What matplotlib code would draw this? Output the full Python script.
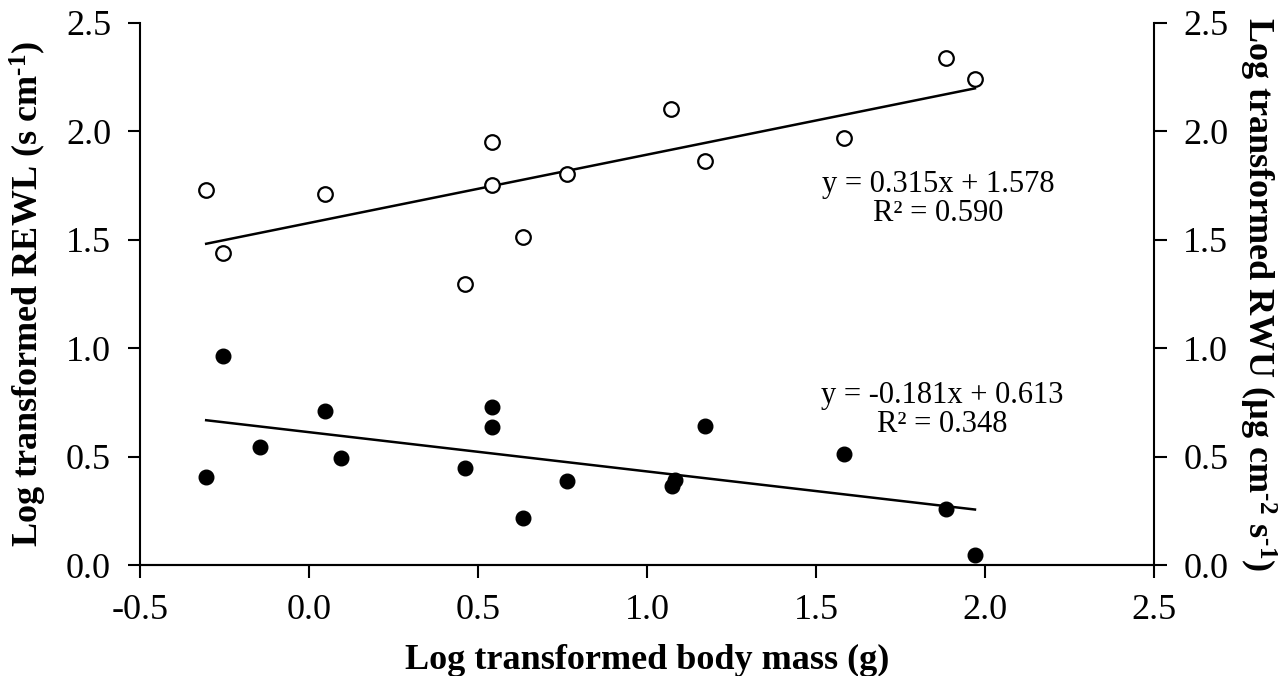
'''
Body mass vs REWL / RWU scatter with linear fits
'''

import numpy as np
import matplotlib
matplotlib.use("Agg")
import matplotlib.pyplot as plt

plt.rcParams["font.family"] = ["Liberation Serif", "DejaVu Serif"]
plt.rcParams["mathtext.fontset"] = "custom"
plt.rcParams["mathtext.rm"] = "Liberation Serif:bold"
plt.rcParams["mathtext.it"] = "Liberation Serif:bold"
plt.rcParams["mathtext.bf"] = "Liberation Serif:bold"
plt.rcParams["axes.unicode_minus"] = False

# REWL (open circles)
rewl_mass = [-0.305, -0.256, 0.047, 0.462, 0.541, 0.541, 0.632, 0.762, 1.072, 1.170, 1.581, 1.883, 1.970]
rewl_vals = [1.731, 1.439, 1.710, 1.298, 1.952, 1.753, 1.514, 1.802, 2.102, 1.863, 1.971, 2.337, 2.242]

# RWU (filled circles)
rwu_mass = [-0.305, -0.256, -0.145, 0.047, 0.095, 0.462, 0.541, 0.541, 0.632, 0.762,
            1.073, 1.082, 1.170, 1.581, 1.883, 1.970]
rwu_vals = [0.405, 0.963, 0.546, 0.713, 0.494, 0.447, 0.730, 0.637, 0.218, 0.387,
            0.364, 0.392, 0.641, 0.513, 0.258, 0.046]

# fitted lines as printed on the chart
rewl_fit = [0.315, 1.578]
rwu_fit = [-0.181, 0.613]
rewl_label = "y = 0.315x + 1.578\nR² = 0.590"
rwu_label = "y = -0.181x + 0.613\nR² = 0.348"

ticks = [-0.5, 0.0, 0.5, 1.0, 1.5, 2.0, 2.5]
yticks = [0.0, 0.5, 1.0, 1.5, 2.0, 2.5]

fig = plt.figure(figsize=(12.87, 6.76), dpi=100)
ax = fig.add_axes([0.109, 0.164, 0.7877, 0.802])
ax2 = ax.twinx()

# scatter points
ax.plot(rewl_mass, rewl_vals, "o", markersize=10.5, markerfacecolor="white",
        markeredgecolor="black", markeredgewidth=1.6, zorder=3)
ax.plot(rwu_mass, rwu_vals, "o", markersize=10.5, color="black", zorder=3)

# regression lines over the data range
xr = np.array([min(rewl_mass), max(rewl_mass)])
ax.plot(xr, np.polyval(rewl_fit, xr), color="black", linewidth=1.8, zorder=2)
xr = np.array([min(rwu_mass), max(rwu_mass)])
ax.plot(xr, np.polyval(rwu_fit, xr), color="black", linewidth=1.8, zorder=2)

ax.text(1.862, 1.688, rewl_label, fontsize=22, ha="center", va="center", linespacing=1.0)
ax.text(1.874, 0.715, rwu_label, fontsize=22, ha="center", va="center", linespacing=1.0)

for a in (ax, ax2):
    a.set_xlim(-0.5, 2.5)
    a.set_ylim(0, 2.5)
    a.set_yticks(yticks)
    a.set_yticklabels(["%.1f" % v for v in yticks])
    a.tick_params(direction="out", length=9, width=1.5, labelsize=26, pad=12)
    for s in a.spines.values():
        s.set_linewidth(1.5)
    a.spines["top"].set_visible(False)

ax.set_xticks(ticks)
ax.set_xticklabels(["%.1f" % v for v in ticks])
ax.spines["right"].set_visible(False)
ax2.spines["left"].set_visible(False)

ax.set_xlabel("Log transformed body mass (g)", fontsize=26, fontweight="bold", labelpad=12)
ax.set_ylabel(r"Log transformed REWL (s cm$^{\text{-}1}$)", fontsize=26,
              fontweight="bold", labelpad=12)
ax2.set_ylabel(r"Log transformed RWU (µg cm$^{\text{-}2}$ s$^{\text{-}1}$)", fontsize=26,
               fontweight="bold", rotation=270, va="bottom", labelpad=6)

fig.savefig("out.png", dpi=100)
